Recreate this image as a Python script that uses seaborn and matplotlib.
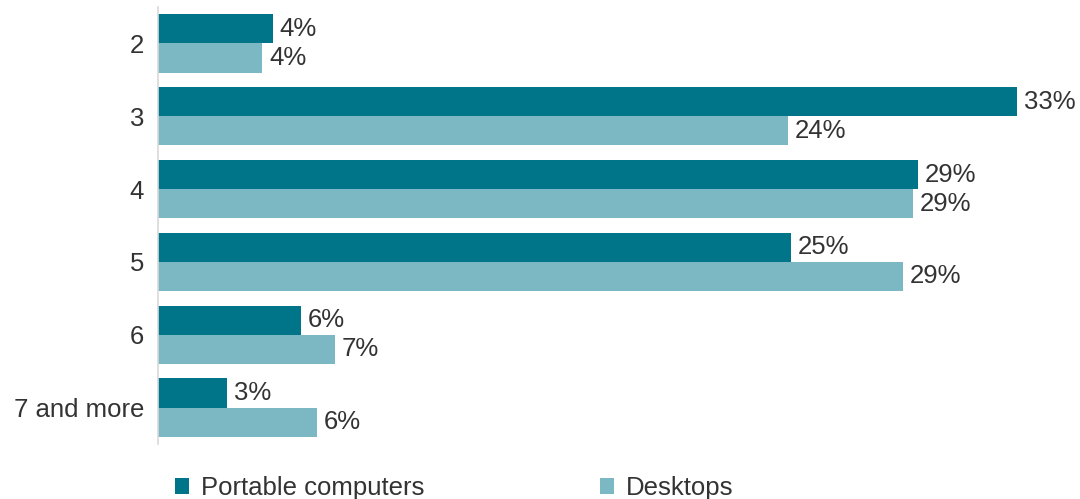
import matplotlib
matplotlib.use("Agg")
import matplotlib.pyplot as plt
import seaborn as sns
import pandas as pd

categories = ["2", "3", "4", "5", "6", "7 and more"]
series_names = ["Portable computers", "Desktops"]
portable = [4.4, 33.0, 29.2, 24.3, 5.5, 2.65]
desktops = [4.0, 24.2, 29.0, 28.6, 6.8, 6.1]
portable_labels = ["4%", "33%", "29%", "25%", "6%", "3%"]
desktop_labels = ["4%", "24%", "29%", "29%", "7%", "6%"]

colors = ["#00758A", "#7BB8C4"]
text_color = "#333333"

sns.set_theme(style="white")
plt.rcParams["font.family"] = ["Liberation Sans", "DejaVu Sans"]

df = pd.DataFrame({
    "category": categories * 2,
    "value": portable + desktops,
    "series": [series_names[0]] * len(categories) + [series_names[1]] * len(categories),
})

fig = plt.figure(figsize=(10.8, 4.99), dpi=100)
ax = fig.add_axes([158 / 1080, 1 - 444 / 499, (1060 - 158) / 1080, (444 - 7) / 499])

sns.barplot(data=df, y="category", x="value", hue="series", order=categories,
            hue_order=series_names, palette=colors, orient="h", width=0.8,
            saturation=1, ax=ax, legend=True, linewidth=0, edgecolor="none")

fs = 18.5
for cont, labs in zip(ax.containers, [portable_labels, desktop_labels]):
    ax.bar_label(cont, labels=labs, padding=5, fontsize=fs, color=text_color)

ax.set_xlim(0, 34.65)
ax.set_ylim(5.5, -0.5)
ax.set_xlabel("")
ax.set_ylabel("")
ax.set_xticks([])
ax.tick_params(axis="y", length=0, pad=10, labelsize=fs, labelcolor=text_color)
for s in ["top", "right", "bottom"]:
    ax.spines[s].set_visible(False)
ax.spines["left"].set_color("#d9d9d9")
ax.spines["left"].set_linewidth(1.2)

handles, labels = ax.get_legend_handles_labels()
ax.get_legend().remove()
fig.legend(handles, labels, loc="center left", bbox_to_anchor=(175 / 1080, 1 - 488 / 499),
           ncol=2, frameon=False, fontsize=fs, handlelength=0.55, handleheight=0.55,
           handletextpad=0.45, columnspacing=6.85, borderpad=0, borderaxespad=0,
           labelcolor=text_color)

fig.savefig("out.png", dpi=100)
